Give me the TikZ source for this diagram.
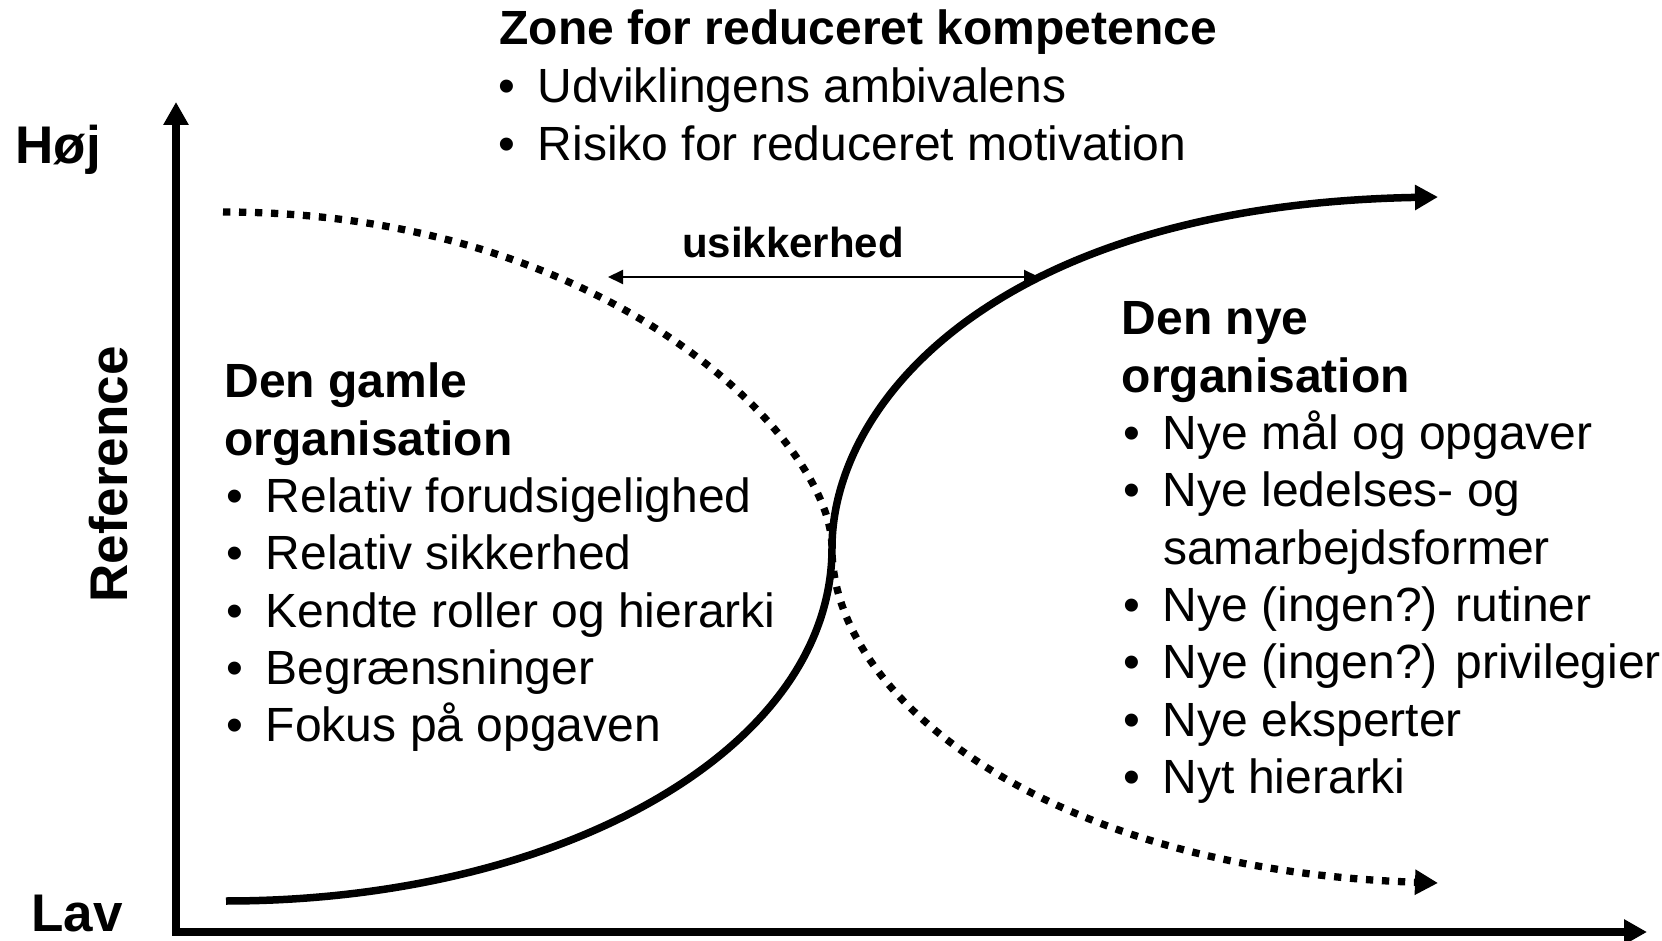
\documentclass[tikz,border=0pt]{standalone}
\usepackage{fontspec}
\setmainfont{Liberation Sans}
\usetikzlibrary{arrows.meta}
\newcommand{\bulitem}{\makebox[19.8pt][l]{•}}
\begin{document}
\begin{tikzpicture}[x=0.5pt,y=-0.5pt,
  txt/.style={anchor=base west, inner sep=0pt, font=\fontsize{24}{28.8}\selectfont},
  hd/.style={anchor=base west, inner sep=0pt, font=\fontsize{24}{28.8}\selectfont\bfseries},
  lbl/.style={inner sep=0pt, font=\fontsize{26.5}{31}\selectfont\bfseries},
  axis/.style={line width=4pt, line join=miter, {Triangle[length=11.5pt,width=12pt]}-{Triangle[length=11.5pt,width=12pt]}},
  solidcurve/.style={line width=3.75pt, -{Triangle[length=11.5pt,width=12pt]}},
  dotcurve/.style={line width=3.65pt, dash pattern=on 3.65pt off 4.35pt, -{Triangle[length=11.5pt,width=12pt]}},
  thinarrow/.style={line width=1pt, {Triangle[length=7.5pt,width=7pt]}-{Triangle[length=7.5pt,width=7pt]}}
]
\useasboundingbox (0,0) rectangle (1662,941);

% axes
\coordinate (O) at (176,932);
\coordinate (Ytip) at (176,102);
\coordinate (Xtip) at (1647,932);
\draw[axis] (Ytip) -- (O) -- (Xtip);

% curves
\coordinate (S0) at (226,901);
\coordinate (M) at (832,548);
\coordinate (S1) at (1438,197);
\draw[solidcurve] (S0) .. controls (560,901) and (832,750) .. (M) .. controls (832,400) and (1000,205) .. (S1);

\coordinate (D0) at (223,212);
\coordinate (D1) at (1438,883);
\draw[dotcurve] (D0) .. controls (610,212) and (832,440) .. (M) .. controls (832,700) and (1050,870) .. (D1);

% usikkerhed
\coordinate (UL) at (608,277);
\coordinate (UR) at (1039,277);
\draw[thinarrow] (UL) -- (UR);
\node[anchor=base, inner sep=0pt, font=\fontsize{21}{25}\selectfont\bfseries] (usik) at (793,258) {usikkerhed};

% axis labels
\node[lbl, anchor=base west] (hoj) at (15,164) {Høj};
\node[lbl, anchor=base west] (lav) at (31,931.7) {Lav};
\node[lbl, anchor=base, rotate=90] (ref) at (127,474.5) {Reference};

% top block
\node[hd] (z0) at (499,45) {Zone for reduceret kompetence};
\node[txt] (z1) at (498,103) {\bulitem Udviklingens ambivalens};
\node[txt] (z2) at (498,160.5) {\bulitem Risiko for reduceret motivation};

% left block
\node[hd] (g0) at (224,398) {Den gamle};
\node[hd] (g1) at (224,455.3) {organisation};
\node[txt] (g2) at (226,512.6) {\bulitem Relativ forudsigelighed};
\node[txt] (g3) at (226,569.9) {\bulitem Relativ sikkerhed};
\node[txt] (g4) at (226,627.2) {\bulitem Kendte roller og hierarki};
\node[txt] (g5) at (226,684.5) {\bulitem Begrænsninger};
\node[txt] (g6) at (226,741.8) {\bulitem Fokus på opgaven};

% right block
\node[hd] (n0) at (1121.5,335) {Den nye};
\node[hd] (n1) at (1121.5,392.3) {organisation};
\node[txt] (n2) at (1123,449.6) {\bulitem Nye mål og opgaver};
\node[txt] (n3) at (1123,506.9) {\bulitem Nye ledelses- og};
\node[txt] (n4) at (1123,564.2) {\hspace*{19.8pt}samarbejdsformer};
\node[txt] (n5) at (1123,621.5) {\bulitem Nye (ingen?) rutiner};
\node[txt] (n6) at (1123,678.8) {\bulitem Nye (ingen?) privilegier};
\node[txt] (n7) at (1123,736.1) {\bulitem Nye eksperter};
\node[txt] (n8) at (1123,793.4) {\bulitem Nyt hierarki};
\end{tikzpicture}
\end{document}
